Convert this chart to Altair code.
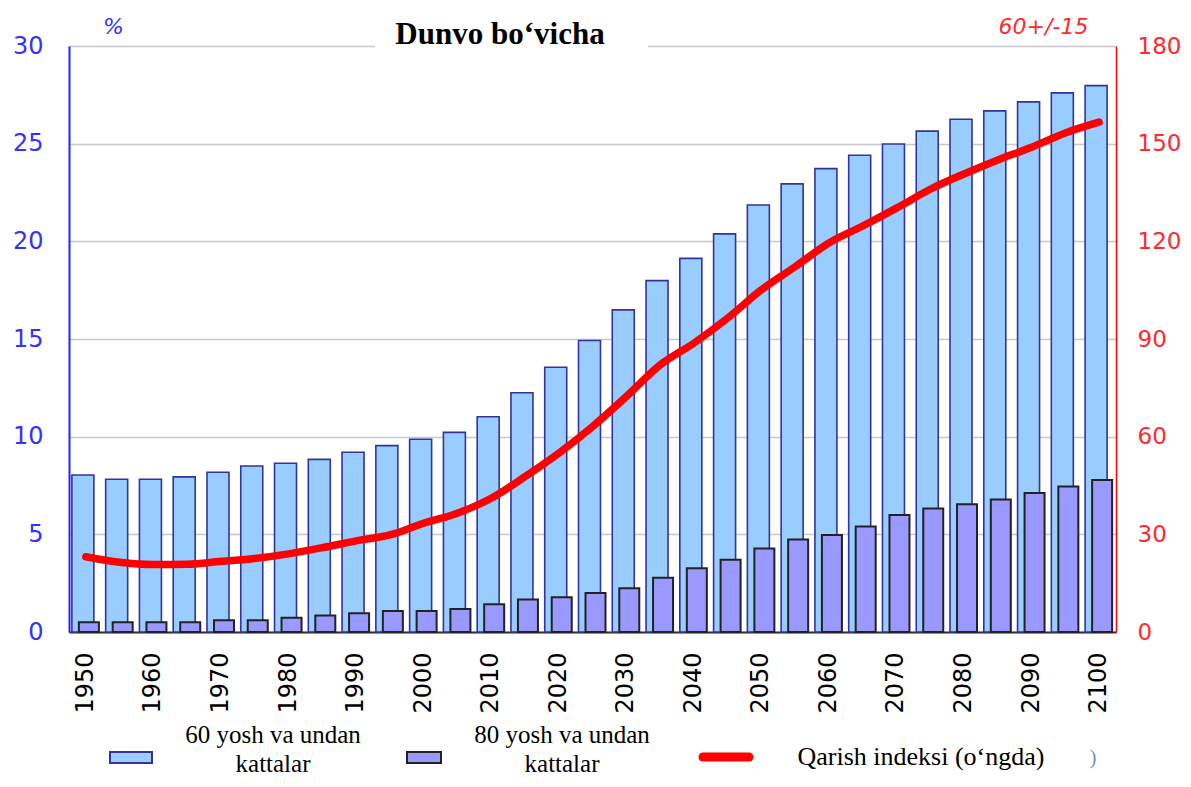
import altair as alt
import pandas as pd

years = list(range(1950, 2101, 5))
pct60 = [8.04, 7.82, 7.82, 7.94, 8.18, 8.50, 8.64, 8.84, 9.20, 9.54, 9.87, 10.22,
         11.02, 12.25, 13.55, 14.92, 16.49, 17.99, 19.13, 20.38, 21.86, 22.94,
         23.72, 24.41, 24.98, 25.64, 26.25, 26.68, 27.14, 27.60, 27.97]
pct80 = [0.50, 0.50, 0.50, 0.50, 0.60, 0.60, 0.73, 0.85, 0.96, 1.08, 1.08, 1.18,
         1.42, 1.66, 1.78, 2.00, 2.24, 2.78, 3.26, 3.70, 4.27, 4.73,
         4.97, 5.40, 5.99, 6.32, 6.54, 6.78, 7.11, 7.45, 7.78]
aging_index = [23.1, 21.4, 20.7, 20.8, 21.7, 22.6, 24.0, 25.9, 28.0, 29.8, 33.4, 36.5,
               41.1, 47.7, 54.9, 63.1, 72.3, 82.0, 88.7, 96.4, 105.1, 112.2,
               119.5, 124.7, 130.2, 136.0, 140.7, 145.0, 148.9, 153.3, 156.6]
label_years = list(range(1950, 2101, 10))
left_ticks = [0, 5, 10, 15, 20, 25, 30]
right_ticks = [0, 30, 60, 90, 120, 150, 180]

title_text = "Dunvo bo\u2018vicha"
legend_60 = ["60 yosh va undan", "kattalar"]
legend_80 = ["80 yosh va undan", "kattalar"]
legend_idx = "Qarish indeksi (o\u2018ngda)"

df = pd.DataFrame({"year": years, "p60": pct60, "p80": pct80, "idx": aging_index})

W, H = 1047, 586
SANS = "DejaVu Sans"
SERIF = "Liberation Serif"

xenc = alt.X("year:O",
             scale=alt.Scale(paddingInner=0, paddingOuter=0),
             axis=alt.Axis(values=label_years, labelAngle=-90, labelFont=SANS,
                           labelFontSize=24, labelColor="#000000", labelPadding=20,
                           ticks=False, domainColor="#333333", domainWidth=2,
                           title=None, grid=False))

base = alt.Chart(df)

bars60 = base.mark_bar(size=22, xOffset=-3, color="#99ccff", stroke="#333399",
                       strokeWidth=1.6).encode(
    x=xenc,
    y=alt.Y("p60:Q", scale=alt.Scale(domain=[0, 30], nice=False),
            axis=alt.Axis(values=left_ticks, orient="left", grid=True,
                          gridColor="#c8c8c8", gridWidth=1.5, ticks=False,
                          domainColor="#2222ff", domainWidth=2,
                          labelFont=SANS, labelFontSize=24, labelColor="#3333ff",
                          labelPadding=26,
                          title="%", titleAngle=0, titleX=44, titleY=-13,
                          titleAlign="center", titleBaseline="alphabetic",
                          titleFont=SANS, titleFontSize=22, titleFontStyle="italic",
                          titleFontWeight="normal", titleColor="#3333ff"))
)

bars80 = base.mark_bar(size=20, xOffset=3, color="#9999ff", stroke="#222222",
                       strokeWidth=2).encode(
    x=xenc,
    y=alt.Y("p80:Q", scale=alt.Scale(domain=[0, 30], nice=False), axis=None)
)

line = base.mark_line(color="#ff0000", strokeWidth=7.5, interpolate="monotone",
                      strokeCap="round", strokeJoin="round").encode(
    x=xenc,
    y=alt.Y("idx:Q", scale=alt.Scale(domain=[0, 180], nice=False),
            axis=alt.Axis(values=right_ticks, orient="right", grid=False,
                          ticks=False, domainColor="#ff0000", domainWidth=1.5,
                          labelFont=SANS, labelFontSize=23, labelColor="#ff2a2a",
                          labelPadding=21,
                          title="60+/-15", titleAngle=0, titleX=-73, titleY=-13,
                          titleAlign="center", titleBaseline="alphabetic",
                          titleFont=SANS, titleFontSize=22, titleFontStyle="italic",
                          titleFontWeight="normal", titleColor="#ff2a2a"))
)

one = alt.Data(values=[{"k": 1}])

# white gap in the top border behind the title
gap = alt.Chart(one).mark_rect(color="white").encode(
    x=alt.value(306), x2=alt.value(579), y=alt.value(-20), y2=alt.value(3))
title = alt.Chart(one).mark_text(font=SERIF, fontSize=31, fontWeight="bold",
                                 color="#000000", align="center",
                                 baseline="alphabetic").encode(
    x=alt.value(431), y=alt.value(-2), text=alt.value(title_text))

# legend
leg_r1 = alt.Chart(one).mark_rect(color="#99ccff", stroke="#333399", strokeWidth=2).encode(
    x=alt.value(41), x2=alt.value(83), y=alt.value(706), y2=alt.value(717))
leg_r2 = alt.Chart(one).mark_rect(color="#9999ff", stroke="#222222", strokeWidth=2).encode(
    x=alt.value(338), x2=alt.value(372), y=alt.value(706), y2=alt.value(717))
leg_ln = alt.Chart(one).mark_rule(color="#ff0000", strokeWidth=9, strokeCap="round").encode(
    x=alt.value(634), x2=alt.value(680), y=alt.value(711))

def ltext(txt, x, y, size=25, color="#000000", font=SERIF):
    return alt.Chart(one).mark_text(font=font, fontSize=size, color=color,
                                    align="center", baseline="alphabetic").encode(
        x=alt.value(x), y=alt.value(y), text=alt.value(txt))

leg_t1a = ltext(legend_60[0], 204, 697)
leg_t1b = ltext(legend_60[1], 204, 726)
leg_t2a = ltext(legend_80[0], 493, 697)
leg_t2b = ltext(legend_80[1], 493, 726)
leg_t3 = ltext(legend_idx, 852, 719, size=26)
stray = ltext(")", 1024, 718, size=20, color="#6f8fb8")

chart = alt.layer(
    bars60, bars80, line, gap, title, leg_r1, leg_r2, leg_ln,
    leg_t1a, leg_t1b, leg_t2a, leg_t2b, leg_t3, stray
).resolve_scale(y="independent").properties(
    width=W, height=H,
    autosize=alt.AutoSizeParams(type="none"),
    padding={"left": 61, "top": 38, "right": 67, "bottom": 147},
).configure_view(stroke=None)

chart.save("out.html", embed_options={"renderer": "svg", "actions": False})
